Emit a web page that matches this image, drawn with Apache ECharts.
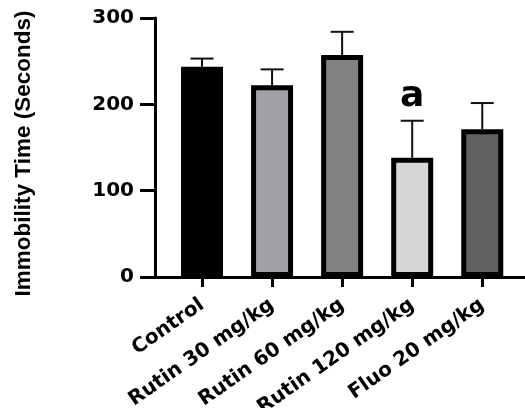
<!DOCTYPE html>
<html>
<head>
<meta charset="utf-8">
<script src="https://cdn.jsdelivr.net/npm/echarts@6/dist/echarts.min.js"></script>
<style>
html,body{margin:0;padding:0;background:#fff;}
#chart{width:525px;height:408px;}
</style>
</head>
<body>
<div id="chart"></div>
<script>
var categories = ['Control', 'Rutin 30 mg/kg', 'Rutin 60 mg/kg', 'Rutin 120 mg/kg', 'Fluo 20 mg/kg'];
var means = [243.5, 222, 257, 138, 171];
var sem = [9.5, 18.5, 27, 43, 30.5];
var sigLetters = ['', '', '', 'a', ''];
var yTicks = [0, 100, 200, 300];
var yTitle = 'Immobility Time (Seconds)';

var palette = ['#000000', '#a2a2a6', '#828282', '#d6d6d6', '#616161'];
var positions = categories.map(function (c, i) { return i; });

var chart = echarts.init(document.getElementById('chart'), null, {renderer: 'canvas'});

var option = {
  animation: false,
  backgroundColor: '#ffffff',
  grid: {left: 155, right: 0, top: 18, bottom: 131, containLabel: false, outerBoundsMode: 'none'},
  xAxis: {
    type: 'value',
    min: -0.671,
    max: 4.61,
    splitLine: {show: false},
    axisLine: {show: true, onZero: false, lineStyle: {color: '#000', width: 3}},
    axisTick: {show: true, customValues: positions, length: 10, lineStyle: {color: '#000', width: 3}},
    axisLabel: {
      customValues: positions,
      rotate: 35,
      margin: 26,
      color: '#000',
      fontFamily: 'DejaVu Sans',
      fontWeight: 'bold',
      fontSize: 20,
      formatter: function (v) { return categories[Math.round(v)] || ''; }
    }
  },
  yAxis: {
    type: 'value',
    min: yTicks[0],
    max: yTicks[yTicks.length - 1],
    interval: 100,
    name: yTitle,
    nameLocation: 'middle',
    nameGap: 120,
    nameTextStyle: {
      color: '#000',
      fontFamily: 'Liberation Sans',
      fontWeight: 'bold',
      fontSize: 22.5,
      padding: [0, 12, 0, 0]
    },
    splitLine: {show: false},
    axisLine: {show: true, onZero: false, lineStyle: {color: '#000', width: 3}},
    axisTick: {show: true, inside: false, length: 15, lineStyle: {color: '#000', width: 3}},
    axisLabel: {
      margin: 21,
      color: '#000',
      fontFamily: 'DejaVu Sans',
      fontWeight: 'bold',
      fontSize: 20
    }
  },
  series: [
    {
      type: 'custom',
      z: 1,
      data: means.map(function (m, i) { return [positions[i], m, m + sem[i], i]; }),
      renderItem: function (params, api) {
        var x = api.value(0);
        var base = api.coord([x, api.value(1)]);
        var top = api.coord([x, api.value(2)]);
        var idx = api.value(3);
        var children = [
          {type: 'line', shape: {x1: base[0], y1: base[1], x2: top[0], y2: top[1]}, style: {stroke: '#111', lineWidth: 2}},
          {type: 'line', shape: {x1: top[0] - 11.5, y1: top[1], x2: top[0] + 11.5, y2: top[1]}, style: {stroke: '#111', lineWidth: 2}}
        ];
        if (sigLetters[idx]) {
          children.push({
            type: 'text',
            style: {
              text: sigLetters[idx],
              x: top[0],
              y: top[1] - 24,
              align: 'center',
              verticalAlign: 'middle',
              fill: '#000',
              font: 'bold 36px "DejaVu Sans"'
            }
          });
        }
        return {type: 'group', children: children};
      }
    },
    {
      type: 'bar',
      z: 2,
      barWidth: 42,
      data: means.map(function (m, i) {
        return {value: [positions[i], m], itemStyle: {color: palette[i]}};
      }),
      itemStyle: {borderColor: '#000', borderWidth: 5}
    }
  ]
};
chart.setOption(option);
</script>
</body>
</html>
